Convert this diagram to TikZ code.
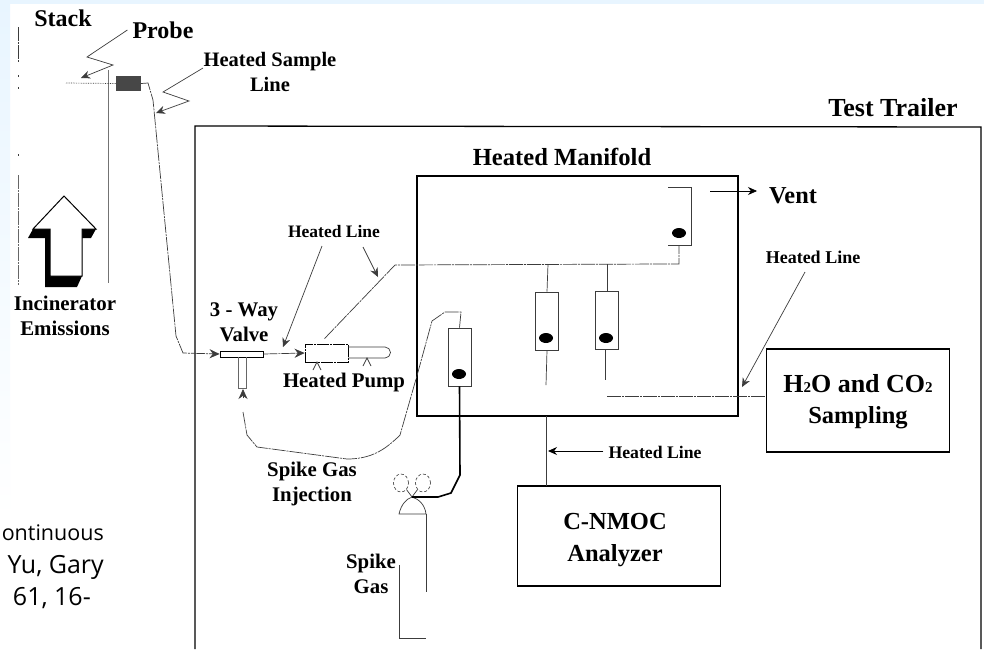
\documentclass[tikz,border=0pt]{standalone}
\usepackage{fontspec}
\setmainfont{Liberation Serif}
\newfontfamily\slidefont{Open Sans}
\usetikzlibrary{arrows.meta, positioning, shapes.geometric}
\definecolor{slideblue}{RGB}{232, 245, 255}
\definecolor{scanline}{RGB}{60, 60, 60}
\newcommand{\lblsize}[1]{\bfseries\fontsize{#1}{#1}\selectfont}
\tikzset{
    lbl/.style={inner sep=0pt, align=center},
    citelbl/.style={inner sep=0pt, anchor=base east, font=\slidefont\fontsize{25}{25}\selectfont},
    pipe/.style={line width=0.7pt, draw=scanline},
    brokenpipe/.style={pipe, dash pattern=on 14pt off 1pt on 2pt off 1pt},
    boxed/.style={draw=black, line width=1.2pt, inner sep=0pt},
    meter/.style={draw=scanline, line width=0.7pt, minimum width=23pt, minimum height=58pt, inner sep=0pt},
    ball/.style={ellipse, fill=black, minimum width=14pt, minimum height=10pt, inner sep=0pt},
    bottle/.style={draw=scanline, densely dashed, ellipse, line width=0.6pt, minimum width=15pt, minimum height=18pt, inner sep=0pt},
    bigtip/.style={-{Stealth[length=10pt, width=9pt]}},
    smalltip/.style={-{Stealth[length=9pt, width=8pt]}}
}
\begin{document}
\begin{tikzpicture}[x=1pt, y=-1pt]
        \useasboundingbox (0,0) rectangle (984,649);
        % --- Slide background ---
        \fill[white] (0,0) rectangle (984,649);
        \fill[slideblue] (0,0) rectangle (984,4);
        \shade[top color=slideblue, bottom color=white] (0,0) rectangle (10,520);

        % --- Stack ---
        \draw[brokenpipe] (18,27) -- (18,63);
        \draw[pipe] (18,75) -- (18,77);
        \draw[pipe] (18,87) -- (18,89);
        \draw[pipe] (18,154) -- (18,156);
        \draw[brokenpipe, draw=black!60] (18,175) -- (18,285);
        \draw[pipe, line width=1pt, draw=black!55] (108.5,70) -- (108.5,283);
        \node[lbl, font=\lblsize{24}] (stack) at (63,18) {Stack};

        % --- Emissions arrow ---
        \fill[black] (33,229) -- (96,229) -- (91,238) -- (82,238) -- (82,276) -- (77,287) -- (45,287) -- (45,238) -- (28,238) -- cycle;
        \draw[line width=1pt, fill=white] (64,196) -- (96,229) -- (82,229) -- (82,276) -- (50,276) -- (50,229) -- (33,229) -- cycle;
        \node[lbl, font=\lblsize{20.9}] (emissions) at (65,316) {Incinerator\\[3.5pt]Emissions};

        % --- Probe ---
        \node[fill=black!72, minimum width=25pt, minimum height=15pt, inner sep=0pt] (probebox) at (128.5,83.5) {};
        \coordinate (probeend) at (66,83);
        \draw[pipe, densely dotted] (probeend) -- (probebox.west);
        \node[lbl, font=\lblsize{24}] (probe) at (163,30) {Probe};
        \coordinate (probetip) at (81,78);
        \draw[pipe, smalltip] ([xshift=-5pt]probe.west) -- (87,57) -- (113,65) -- (probetip);

        % --- Heated sample line ---
        \node[lbl, font=\lblsize{20.5}] (sampleline) at (270,72) {Heated Sample\\[5pt]Line};
        \coordinate (sampletip) at (156,113);
        \draw[pipe, smalltip] (203,68) -- (163,92) -- (189,101) -- (sampletip);

        % --- Test trailer ---
        \draw[line width=1.3pt] (195,649) -- (195,126) -- (981,127) -- (981,649);
        \node[lbl, font=\lblsize{26}] (trailer) at (893,108) {Test Trailer};

        % --- Valve ---
        \node[draw=black, line width=0.8pt, minimum width=43pt, minimum height=6pt, inner sep=0pt] (valve) at (241.5,354) {};
        \node[lbl, font=\lblsize{20.8}] (valvelbl) at (244,322) {3 - Way\\[4pt]Valve};
        \draw[brokenpipe, bigtip] (probebox.east) -- (148,83) -- (153,100) -- (176,336) -- (183,353) -- (valve.west);
        \draw[pipe, draw=black!60, line width=1pt] (238,357) -- (238,388) -- (246,388) -- (246,357);

        % --- Pump ---
        \node[draw=black, dash pattern=on 12pt off 1pt on 2pt off 1pt, line width=0.8pt, minimum width=43pt, minimum height=18pt, inner sep=0pt] (pump) at (326.5,353) {};
        \draw[brokenpipe, bigtip] (valve.east) -- (pump.west);
        \draw[pipe] (348,347) -- (385,347) arc[start angle=-90, end angle=90, radius=5.5] -- (348,358);
        \draw[pipe] (313,370) -- (317,362) -- (321,370);
        \draw[pipe] (363,366) -- (367,358) -- (371,366);
        \node[lbl, font=\lblsize{20.8}] (pumplbl) at (344,382) {Heated Pump};

        % --- Heated manifold ---
        \node[boxed, minimum width=321pt, minimum height=240pt] (manifold) at (577.5,296) {};
        \node[lbl, font=\lblsize{24.6}] (manifoldlbl) at (562,157) {Heated Manifold};
        \node[lbl, font=\lblsize{17.5}] (heatedleft) at (334,232) {Heated Line};
        \coordinate (linetipa) at (283,347);
        \coordinate (linetipb) at (378,277);
        \draw[pipe, smalltip] (322,246) -- (linetipa);
        \draw[pipe, smalltip] (363,247) -- (linetipb);

        % Main line
        \coordinate (mainend) at (664,264);
        \draw[brokenpipe] (pump.north) ++(-2,-5) -- (395,265) -- (mainend) -- (679,264) -- (679,245);

        % Vent tube
        \draw[pipe] (668,187) -- (691,187) -- (691,245) -- (668,245);
        \node[ball] (ballvent) at (679,233) {};
        \node[lbl, font=\lblsize{24.3}] (vent) at (793,196) {Vent};
        \coordinate (venttip) at (757,191);
        \draw[line width=0.7pt, smalltip] (710,191) -- (venttip);

        % Tubes on the main line
        \node[meter] (tubea) at (547,321) {};
        \node[ball] (balla) at (546,338) {};
        \node[meter] (tubeb) at (607,320.5) {};
        \node[ball] (ballb) at (606,338) {};
        \draw[pipe] (548,264) -- (tubea.north);
        \draw[pipe] (607,264) -- (tubeb.north);
        \draw[pipe] (tubea.south) -- (546,385);
        \draw[pipe] (605,350) -- (605,380);

        % --- Sampling ---
        \node[boxed, minimum width=183pt, minimum height=103pt] (sampling) at (858,400.5) {};
        \node[lbl, font=\lblsize{26}] (samplinglbl) at (858,402) {H{\fontsize{15}{15}\selectfont 2}O and CO{\fontsize{15}{15}\selectfont 2}\\[5pt]{\fontsize{24.5}{24.5}\selectfont Sampling}};
        \coordinate (samplingstart) at (607,396);
        \draw[brokenpipe] (samplingstart) -- (sampling.west |- samplingstart);
        \node[lbl, font=\lblsize{18}] (heatedright) at (813,257) {Heated Line};
        \coordinate (linetipc) at (742,387);
        \draw[pipe, smalltip] (805,272) -- (linetipc);

        % --- Analyzer ---
        \node[boxed, minimum width=203pt, minimum height=100pt] (analyzer) at (619,536) {};
        \node[lbl, font=\lblsize{24.5}] (analyzerlbl) at (615,540) {C-NMOC\\[8pt]Analyzer};
        \coordinate (analyzerin) at (546,486);
        \draw[pipe] (546,416) -- (analyzerin);
        \node[lbl, font=\lblsize{17.7}] (heatedbottom) at (655,452) {Heated Line};
        \coordinate (linetipd) at (548,451);
        \draw[line width=0.9pt, smalltip] ([xshift=-5pt]heatedbottom.west |- linetipd) -- (linetipd);

        % --- Spike gas tube ---
        \node[meter] (tubec) at (459.5,357) {};
        \node[ball] (ballc) at (459,374) {};
        \coordinate (spiketip) at (243,389);
        \draw[brokenpipe] (tubec.north) -- (461,312) -- (445,312) -- (432,321) -- (418,372) -- (400,435) -- (397,438) .. controls (385,449) and (372,459) .. (347,459) -- (257,447) -- (247,435) -- (243,412);
        \draw[pipe, bigtip] (243,398) -- (spiketip);
        \node[lbl, font=\lblsize{20.8}] (spikeinj) at (312,484) {Spike Gas\\[4pt]Injection};

        % --- Gas bottle ---
        \node[bottle] (bottlea) at (401,483) {};
        \node[bottle] (bottleb) at (423,483) {};
        \coordinate (bottletop) at (412,497);
        \draw[pipe] (bottlea.south east) -- (bottletop) -- (bottleb.south west);
        \draw[pipe] (399,514) .. controls (401,505) and (406,499) .. (bottletop) .. controls (419,499) and (425,505) .. (426,514) -- cycle;
        \draw[line width=1.6pt] (tubec.south) -- (460,475) -- (451,493) -- (438,497) -- (428,497) -- (bottletop);
        \draw[pipe] (426,514) -- (426,592);
        \draw[pipe] (399,565) -- (399,638) -- (426,638);
        \node[lbl, font=\lblsize{20.8}] (spikegas) at (371,574) {Spike\\[4pt]Gas};

        % --- Slide text ---
        \node[citelbl, font=\slidefont\fontsize{21.5}{21.5}\selectfont] (citea) at (104,540) {ontinuous};
        \node[citelbl] (citeb) at (104,573) {Yu, Gary};
        \node[citelbl] (citec) at (91,605) {61, 16-};
    \end{tikzpicture}
\end{document}
